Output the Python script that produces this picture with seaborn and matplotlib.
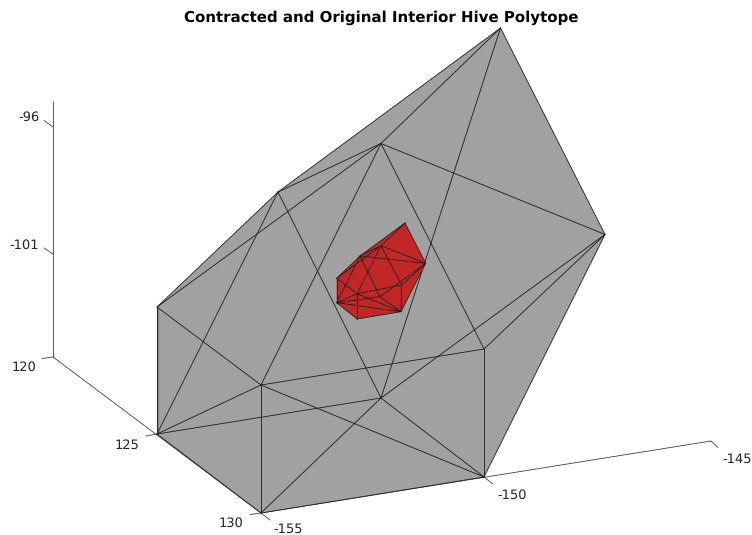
import matplotlib
matplotlib.use("Agg")
import matplotlib.pyplot as plt
import pandas as pd
import seaborn as sns

# Projected vertices of the two polytopes
vertex_names = ["A", "B", "C", "D", "E", "F", "G", "H", "I", "J", "K"]
outer_x = [500.5, 605, 484, 484, 261, 157, 157, 278, 381, 261, 381]
outer_y = [28, 234.5, 349, 477, 513, 434, 307, 192, 143.5, 385, 398]
inner_x = [405, 425.7, 401.7, 401, 357, 336.7, 336.7, 360, 381, 357, 380]
inner_y = [223, 263.3, 285, 311.7, 319, 302.7, 278.3, 256, 245.7, 293.7, 296.7]

hull = ["A", "B", "D", "E", "F", "G", "H"]
outer_edges = ["AB", "BD", "DE", "EF", "FG", "GH", "HA", "HI", "IA", "GI", "IJ", "IC",
               "AK", "IB", "HK", "HF", "GJ", "JF", "JE", "JC", "JD", "FK", "KD", "KE",
               "KB", "CB", "CD"]
inner_edges = ["AB", "BD", "DE", "EF", "FG", "GH", "HA", "HI", "IA", "GI", "IJ", "IC",
               "HB", "IB", "HK", "HF", "GJ", "JF", "JE", "JC", "JD", "FK", "KD", "FD",
               "KB", "CB", "CD"]

# Axis rulers
z_axis_x = [53, 53]
z_axis_y = [101, 357]
y_axis_x = [53, 261]
y_axis_y = [357, 513]
x_axis_x = [261, 711]
x_axis_y = [513, 441]

tick_segments = [
    ((53, 127), (44, 120.5)), ((53, 254), (44, 248)),
    ((53, 357), (42, 358.5)), ((157, 434), (146, 436)), ((261, 513), (250, 514.5)),
    ((261, 513), (270, 520)), ((484, 477), (493, 484)), ((711, 441), (718, 447.5)),
]
tick_labels = ["-96", "-101", "120", "125", "130", "-155", "-150", "-145"]
label_x = [28.5, 24, 23.5, 127, 231, 288.5, 512, 737]
label_y = [117.5, 245.5, 367.5, 445.5, 523.5, 529.5, 495.5, 459.5]

TITLE = "Contracted and Original Interior Hive Polytope"
GRAY = "#a1a1a1"
RED = "#c22727"
INK = "#262626"


def edge_frame(xs, ys, edges):
    pos = {n: (x, y) for n, x, y in zip(vertex_names, xs, ys)}
    rows = []
    for e in edges:
        for n in e:
            rows.append({"edge": e, "x": pos[n][0], "y": pos[n][1]})
    return pos, pd.DataFrame(rows)


sns.set_theme(style="white")
plt.rcParams["font.family"] = ["DejaVu Sans"]
plt.rcParams["text.hinting"] = "no_hinting"
plt.rcParams["text.hinting_factor"] = 1

fig = plt.figure(figsize=(7.52, 5.35), dpi=100)
ax = fig.add_axes([0, 0, 1, 1])
ax.set_xlim(0, 752)
ax.set_ylim(535, 0)
ax.axis("off")

# axes rulers
for xs, ys in [(z_axis_x, z_axis_y), (y_axis_x, y_axis_y), (x_axis_x, x_axis_y)]:
    ax.plot(xs, ys, color="#404040", lw=0.6, zorder=1, solid_capstyle="butt")
for (p0, p1) in tick_segments:
    ax.plot([p0[0], p1[0]], [p0[1], p1[1]], color="#404040", lw=0.6, zorder=1)

# original polytope
pos, df = edge_frame(outer_x, outer_y, outer_edges)
ax.fill([pos[n][0] for n in hull], [pos[n][1] for n in hull], color=GRAY, lw=0, zorder=2)
ax.plot([157.5, 157.5], [307, 434], color="#808080", lw=1.4, zorder=2.2)
sns.lineplot(data=df, x="x", y="y", units="edge", estimator=None, sort=False,
             color="#1a1a1a", lw=0.6, ax=ax, legend=False, zorder=3)

# contracted polytope
pos, df = edge_frame(inner_x, inner_y, inner_edges)
ax.fill([pos[n][0] for n in hull], [pos[n][1] for n in hull], color=RED, lw=0, zorder=4)
sns.lineplot(data=df, x="x", y="y", units="edge", estimator=None, sort=False,
             color="#1a1a1a", lw=0.55, ax=ax, legend=False, zorder=5)

ax.set_xlim(0, 752)
ax.set_ylim(535, 0)
ax.axis("off")

for t, x, y in zip(tick_labels, label_x, label_y):
    ax.text(x, y, t, ha="center", va="center", fontsize=9.7, color=INK, clip_on=True)
ax.text(381.5, 18, TITLE, ha="center", va="center", fontsize=10.5, fontweight="bold", color="black")

fig.savefig("out.png", dpi=100)
